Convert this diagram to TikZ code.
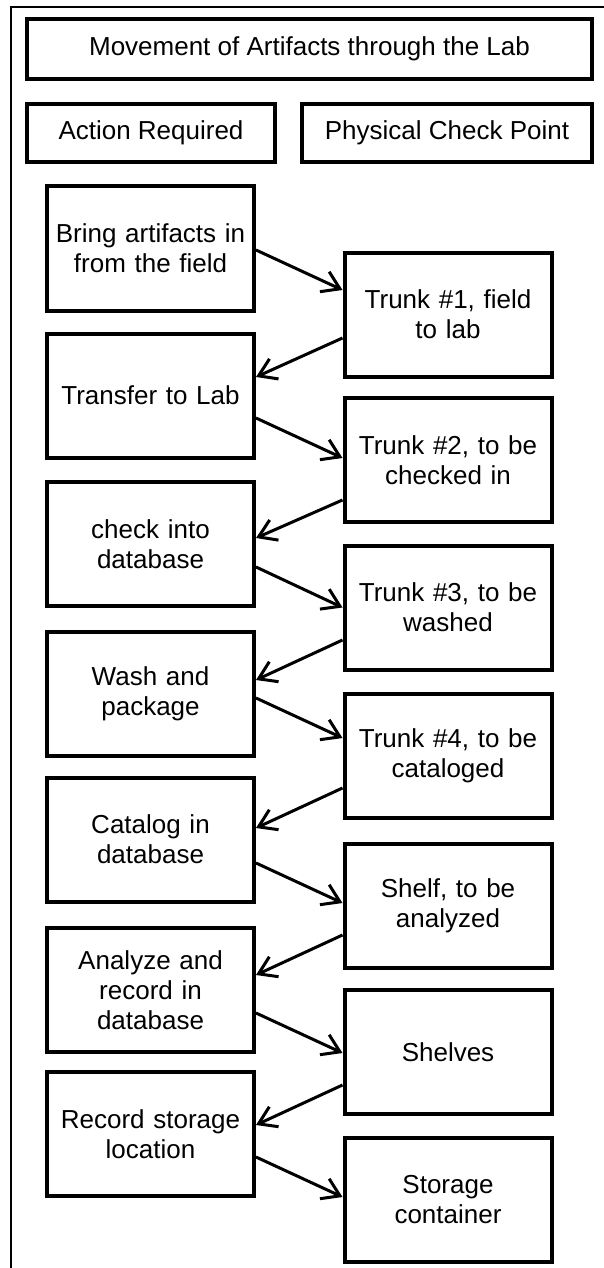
\documentclass[tikz,border=0pt]{standalone}
\usepackage{fontspec}
\setmainfont{Liberation Sans}
\usetikzlibrary{arrows.meta}

\tikzset{
  head/.style={draw, line width=4pt, minimum height=58pt, inner sep=0pt},
  stage/.style={draw, line width=4pt, minimum width=207pt, minimum height=124pt,
    text width=196pt, align=center},
  flow/.style={line width=3pt, -{Straight Barb[length=17pt,width=22pt]}}
}

\begin{document}
\begin{tikzpicture}[x=1pt, y=-1pt, font=\fontsize{26}{30}\selectfont]
  \useasboundingbox (0,0) rectangle (604,1268);
  \draw[line width=2pt] (11,1268) -- (11,7) -- (604,7);

  \node[head, minimum width=565pt, minimum height=60pt] (title) at (309.5,49) {Movement of Artifacts through the Lab};
  \node[head, minimum width=248pt] (action) at (151,133) {Action Required};
  \node[head, minimum width=290pt] (checkpoint) at (447,133) {Physical Check Point};

  % actions
  \node[stage] (bring) at (150.5,248.5) {Bring artifacts in\\from the field};
  \node[stage] (transfer) at (150.5,395.5) {Transfer to Lab};
  \node[stage] (checkin) at (150.5,544) {check into\\database};
  \node[stage] (wash) at (150.5,694) {Wash and\\package};
  \node[stage] (catalog) at (150.5,839.5) {Catalog in\\database};
  \node[stage] (analyze) at (150.5,990) {Analyze and\\record in\\database};
  \node[stage] (record) at (150.5,1134) {Record storage\\location};

  % check points
  \node[stage] (trunkone) at (448,314.5) {Trunk \#1, field\\to lab};
  \node[stage] (trunktwo) at (448,460) {Trunk \#2, to be\\checked in};
  \node[stage] (trunkthree) at (448,607.5) {Trunk \#3, to be\\washed};
  \node[stage] (trunkfour) at (448,756) {Trunk \#4, to be\\cataloged};
  \node[stage] (shelf) at (448,906) {Shelf, to be\\analyzed};
  \node[stage] (shelves) at (448,1052) {Shelves};
  \node[stage] (container) at (448,1200) {Storage\\container};

  \draw[flow] ([yshift=-1.5pt]bring.east) -- ([yshift=24.5pt]trunkone.west);
  \draw[flow] ([yshift=-23.5pt]trunkone.west) -- ([yshift=18.5pt]transfer.east);
  \draw[flow] ([yshift=-22.5pt]transfer.east) -- ([yshift=2pt]trunktwo.west);
  \draw[flow] ([yshift=-40pt]trunktwo.west) -- ([yshift=6pt]checkin.east);
  \draw[flow] ([yshift=-23pt]checkin.east) -- (trunkthree.west);
  \draw[flow] ([yshift=-32.5pt]trunkthree.west) -- ([yshift=14pt]wash.east);
  \draw[flow] ([yshift=-4pt]wash.east) -- ([yshift=18pt]trunkfour.west);
  \draw[flow] ([yshift=-32pt]trunkfour.west) -- ([yshift=11.5pt]catalog.east);
  \draw[flow] ([yshift=-23.5pt]catalog.east) -- ([yshift=3pt]shelf.west);
  \draw[flow] ([yshift=-29pt]shelf.west) -- ([yshift=15pt]analyze.east);
  \draw[flow] ([yshift=-23pt]analyze.east) -- ([yshift=-1pt]shelves.west);
  \draw[flow] ([yshift=-33pt]shelves.west) -- ([yshift=9pt]record.east);
  \draw[flow] ([yshift=-23pt]record.east) -- ([yshift=3pt]container.west);
\end{tikzpicture}
\end{document}
